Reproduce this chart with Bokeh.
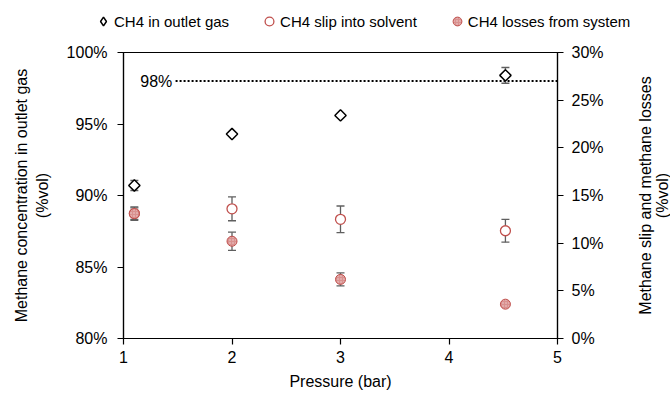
import math
from bokeh.plotting import figure
from bokeh.layouts import column, row
from bokeh.models import (Range1d, LinearAxis, PrintfTickFormatter, FixedTicker,
                          Legend, LegendItem)
from bokeh.core.properties import value
from bokeh.embed import file_html
from bokeh.resources import INLINE

# ---- data ----
pressure = [1.1, 2, 3, 4.52]
outlet = [90.7, 94.3, 95.6, 98.4]
outlet_err = [0.35, 0.0, 0.0, 0.55]
slip = [13.1, 13.6, 12.5, 11.3]
slip_err = [0.6, 1.25, 1.4, 1.2]
losses = [13.1, 10.2, 6.2, 3.6]
losses_err = [0.7, 0.95, 0.68, 0.2]
series_names = ["CH4 in outlet gas", "CH4 slip into solvent", "CH4 losses from system"]
right_label = ["Methane slip and methane losses", "(%vol)"]
target = 98
target_line_start = 1.48
x_ticks = [1, 2, 3, 4, 5]
left_ticks = [80, 85, 90, 95, 100]
right_ticks = [0, 5, 10, 15, 20, 25, 30]

FONT = "Liberation Sans"
RED = "#C0504D"
GRAY = "#5f5f5f"
LOSS_FILL = dict(fill_color="#D9918F", line_color=RED, line_width=1.0,
                 hatch_pattern="dot", hatch_color="white", hatch_scale=3,
                 hatch_weight=1, hatch_alpha=0.6)

p = figure(width=628, height=353, output_backend="svg", toolbar_location=None,
           x_range=Range1d(1, 5), y_range=Range1d(80, 100),
           min_border_left=123, min_border_right=71, min_border_top=12,
           min_border_bottom=55)
p.extra_y_ranges = {"right": Range1d(0, 30)}
p.grid.visible = False
p.outline_line_color = "black"
p.outline_line_width = 1.2
p.background_fill_color = "white"
p.border_fill_color = "white"

def style_axis(ax, standoff, label, label_standoff):
    ax.axis_line_color = "black"
    ax.axis_line_width = 1.2
    ax.major_tick_line_color = "black"
    ax.major_tick_line_width = 1.2
    ax.major_tick_in = 0
    ax.major_tick_out = 6
    ax.minor_tick_line_color = None
    ax.major_label_text_font = FONT
    ax.major_label_text_font_size = "16px"
    ax.major_label_text_color = "black"
    ax.major_label_standoff = standoff
    ax.axis_label = label
    ax.axis_label_text_font = FONT
    ax.axis_label_text_font_size = "16px"
    ax.axis_label_text_font_style = "normal"
    ax.axis_label_text_color = "black"
    ax.axis_label_standoff = label_standoff

p.xaxis.ticker = FixedTicker(ticks=x_ticks)
style_axis(p.xaxis[0], 6, "Pressure (bar)", 7)
p.yaxis.ticker = FixedTicker(ticks=left_ticks)
p.yaxis.formatter = PrintfTickFormatter(format="%d%%")
style_axis(p.yaxis[0], 10, "Methane concentration in outlet gas\n(%vol)", 13)

ry = LinearAxis(y_range_name="right", ticker=FixedTicker(ticks=right_ticks),
                formatter=PrintfTickFormatter(format="%d%%"))
style_axis(ry, 8, None, 0)
p.add_layout(ry, "right")

# target line
p.segment(x0=[target_line_start], y0=[target], x1=[5], y1=[target],
          line_color="black", line_width=2, line_dash="2 2")
p.text(x=[target_line_start - 0.03], y=[target], text=[f"{target}%"],
       text_align="right", text_baseline="middle", text_font_size="16px",
       text_font=value(FONT), text_color="black")

# error bars
def errbars(xs, ys, errs, rng):
    sel = [(x, y, e) for x, y, e in zip(xs, ys, errs) if e > 0]
    xx = [s[0] for s in sel]
    lo = [s[1] - s[2] for s in sel]
    hi = [s[1] + s[2] for s in sel]
    kw = {} if rng is None else {"y_range_name": rng}
    p.segment(x0=xx, y0=lo, x1=xx, y1=hi, line_color=GRAY, line_width=1.3, **kw)
    p.scatter(x=xx + xx, y=lo + hi, marker="dash", size=8, line_color=GRAY,
              line_width=1.3, **kw)

errbars(pressure, outlet, outlet_err, None)
errbars(pressure, slip, slip_err, "right")
errbars(pressure, losses, losses_err, "right")

p.scatter(x=pressure, y=outlet, marker="square", angle=math.pi / 4, size=8,
          fill_color="white", line_color="black", line_width=1.5)
p.scatter(x=pressure, y=slip, marker="circle", size=10, y_range_name="right",
          fill_color="white", line_color=RED, line_width=1.3)
p.scatter(x=pressure, y=losses, marker="circle", size=10, y_range_name="right",
          **LOSS_FILL)

# ---- right axis title strip ----
rl = figure(width=42, height=353, output_backend="svg", toolbar_location=None,
            x_axis_type=None, y_axis_type=None, x_range=Range1d(0, 42),
            y_range=Range1d(0, 1), min_border=0, outline_line_color=None)
rl.grid.visible = False
rl.text(x=[17, 34], y=[0.5, 0.5], text=right_label, angle=math.pi / 2,
        text_align="center", text_baseline="middle", text_font=value(FONT),
        text_font_size="16px", text_color="black")

# ---- legend strip on top ----
lg = figure(width=670, height=40, output_backend="svg", toolbar_location=None,
            x_axis_type=None, y_axis_type=None, x_range=Range1d(0, 1),
            y_range=Range1d(0, 1), min_border=0, outline_line_color=None)
lg.grid.visible = False
g1 = lg.scatter(x=[5], y=[5], marker="diamond", size=10,
                fill_color="white", line_color="black", line_width=1.5)
g2 = lg.scatter(x=[5], y=[5], marker="circle", size=10,
                fill_color="white", line_color=RED, line_width=1.3)
g3 = lg.scatter(x=[5], y=[5], marker="circle", size=10, **LOSS_FILL)
legend = Legend(items=[LegendItem(label=n, renderers=[r])
                       for n, r in zip(series_names, [g1, g2, g3])],
                orientation="horizontal", location=(92, 8),
                padding=0, margin=0, spacing=29, label_standoff=-2,
                glyph_width=22, glyph_height=22,
                label_text_font=FONT, label_text_font_size="15px",
                label_text_color="black",
                background_fill_alpha=0, border_line_alpha=0)
lg.add_layout(legend)

layout = column(lg, row(p, rl, spacing=0), spacing=0)
open("out.html", "w").write(file_html(layout, INLINE))
